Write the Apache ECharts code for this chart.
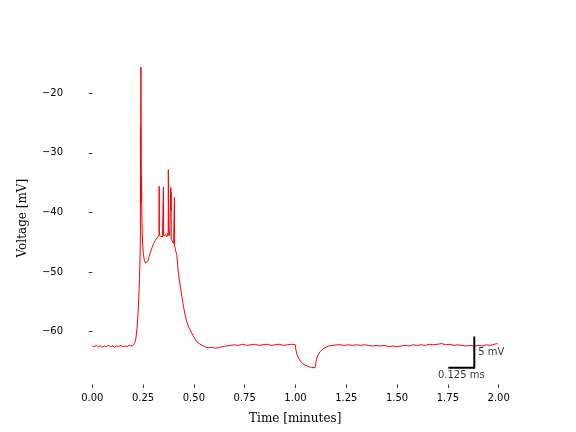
<!DOCTYPE html>
<html>
<head>
<meta charset="utf-8">
<script src="https://cdn.jsdelivr.net/npm/echarts@6/dist/echarts.min.js"></script>
<style>
html,body{margin:0;padding:0;background:#fff;}
#chart{width:576px;height:432px;}
</style>
</head>
<body>
<div id="chart"></div>
<script>
// ---- data ----
const timeMin = [
  0.00,0.01,0.02,0.03,0.04,0.05,0.06,0.07,0.08,0.09,0.10,0.11,0.12,0.13,0.14,0.15,0.16,0.17,0.18,0.19,0.20,
  0.205,0.21,0.215,0.22,0.224,0.228,0.232,0.235,0.2368,0.2375,0.2382,0.2395,0.2405,0.2412,0.2422,0.2432,0.2445,
  0.247,0.251,0.256,0.262,0.268,0.274,0.28,0.287,0.294,0.302,0.31,0.318,0.325,
  0.3285,0.3292,0.3300,0.334,0.339,0.345,0.3495,0.3502,0.3510,0.356,0.361,0.366,0.3715,
  0.3735,0.3742,0.3750,0.3760,0.381,0.3855,0.3862,0.3870,0.3878,0.3888,0.394,0.400,0.4035,0.4042,0.4050,
  0.409,0.413,0.416,0.42,0.424,0.43,0.436,0.442,0.449,0.457,0.465,0.475,0.49,0.50,0.514,0.53,0.547,0.56,
  0.575,0.59,0.605,0.62,0.64,0.66,0.68,0.70,0.72,0.74,0.76,0.78,0.80,0.82,0.84,0.86,0.88,0.90,0.92,0.94,0.96,0.98,0.999,
  1.0,1.002,1.008,1.018,1.03,1.046,1.068,1.08,1.088,1.096,1.099,1.101,1.109,1.122,1.139,1.163,1.205,
  1.22,1.24,1.26,1.28,1.30,1.32,1.34,1.36,1.38,1.40,1.42,1.44,1.46,1.48,1.50,1.52,1.54,1.56,1.58,1.60,
  1.62,1.64,1.66,1.68,1.70,1.72,1.74,1.76,1.78,1.80,1.82,1.84,1.86,1.88,1.90,1.92,1.94,1.96,1.98,1.995
];
const voltage = [
  -62.4,-62.5,-62.3,-62.5,-62.4,-62.6,-62.4,-62.5,-62.3,-62.5,-62.4,-62.6,-62.4,-62.5,-62.3,-62.5,-62.4,-62.5,-62.3,-62.4,-62.3,
  -62.2,-61.8,-61.0,-59.5,-57.5,-55.0,-51.3,-47.5,-44.0,-25.6,-38.4,-15.6,-31.0,-38.4,-34.0,-38.4,-41.8,
  -44.8,-46.9,-48.0,-48.5,-48.6,-48.1,-47.4,-46.6,-45.9,-45.2,-44.7,-44.3,-44.0,
  -43.8,-35.6,-43.9,-44.2,-43.6,-44.1,-43.8,-35.7,-43.9,-44.2,-43.7,-44.1,-43.5,
  -43.9,-32.8,-39.0,-43.2,-43.9,-43.6,-35.8,-39.6,-36.6,-44.5,-44.6,-45.2,-45.4,-37.5,-45.6,
  -45.6,-45.9,-47.2,-48.8,-50.2,-51.7,-53.0,-54.4,-55.8,-57.2,-58.3,-59.3,-60.25,-60.9,-61.66,-62.1,-62.4,-62.6,
  -62.7,-62.6,-62.8,-62.7,-62.5,-62.4,-62.3,-62.2,-62.3,-62.1,-62.3,-62.2,-62.1,-62.3,-62.2,-62.1,-62.3,-62.2,-62.1,-62.3,-62.2,-62.1,-62.2,
  -62.6,-63.05,-63.9,-64.6,-65.2,-65.6,-65.9,-66.0,-66.05,-66.05,-65.6,-65.0,-64.05,-63.3,-62.8,-62.4,-62.2,
  -62.2,-62.3,-62.2,-62.3,-62.2,-62.3,-62.2,-62.3,-62.4,-62.3,-62.4,-62.3,-62.5,-62.4,-62.5,-62.4,-62.3,-62.4,-62.2,-62.3,
  -62.2,-62.3,-62.1,-62.2,-62.1,-62.0,-62.2,-62.1,-62.3,-62.2,-62.3,-62.4,-62.3,-62.4,-62.3,-62.4,-62.2,-62.3,-62.1,-62.0
];
const xTicks = [0, 0.25, 0.5, 0.75, 1.0, 1.25, 1.5, 1.75, 2.0];
const yTicks = [-60, -50, -40, -30, -20];
const scaleBarX = [1.752, 1.88, 1.88];
const scaleBarY = [-66.05, -66.05, -60.8];
const scaleBarLabels = ['0.125 ms', '5 mV'];

// ---- chart ----
const chart = echarts.init(document.getElementById('chart'), null, {renderer: 'canvas'});
const trace = timeMin.map((t, i) => [t, voltage[i]]);
const bar = scaleBarX.map((x, i) => [x, scaleBarY[i]]);
const barLabelPts = [
  {value: [(scaleBarX[0] + scaleBarX[1]) / 2, scaleBarY[0]], label: {position: 'bottom', distance: 3}, name: scaleBarLabels[0]},
  {value: [scaleBarX[2], (scaleBarY[1] + scaleBarY[2]) / 2], label: {position: 'right', distance: 4}, name: scaleBarLabels[1]}
];
const fmtMinus = v => (v < 0 ? '\u2212' + Math.abs(v) : String(v));
const tickFont = {fontFamily: 'DejaVu Sans', fontSize: 10, color: '#000'};

chart.setOption({
  animation: false,
  backgroundColor: '#fff',
  grid: {left: 72, right: 57.6, top: 51.8, bottom: 47.5, containLabel: false, outerBoundsMode: 'none'},
  xAxis: {
    type: 'value', min: -0.0999, max: 2.0971,
    name: 'Time [minutes]', nameLocation: 'middle', nameGap: 28,
    nameTextStyle: {fontFamily: 'DejaVu Serif', fontSize: 12, color: '#000'},
    axisLine: {show: false},
    axisTick: {show: true, length: 3.5, lineStyle: {color: '#000', width: 0.8}, customValues: xTicks},
    axisLabel: Object.assign({show: true, margin: 8.5, customValues: xTicks, formatter: v => v.toFixed(2)}, tickFont),
    splitLine: {show: false}
  },
  yAxis: {
    type: 'value', min: -68.86, max: -13.04,
    name: 'Voltage [mV]', nameLocation: 'middle', nameGap: 43,
    nameTextStyle: {fontFamily: 'DejaVu Serif', fontSize: 12, color: '#000'},
    axisLine: {show: false},
    axisTick: {show: true, length: 3.5, lineStyle: {color: '#000', width: 0.8}, customValues: yTicks},
    axisLabel: Object.assign({show: true, margin: 9, customValues: yTicks, formatter: fmtMinus}, tickFont),
    splitLine: {show: false}
  },
  series: [
    {
      type: 'line', data: trace, showSymbol: false, symbol: 'none', sampling: null,
      lineStyle: {color: '#ff0000', width: 1}, silent: true, z: 2
    },
    {
      type: 'line', data: bar, showSymbol: false, symbol: 'none',
      lineStyle: {color: '#000', width: 2, cap: 'butt', join: 'miter'}, silent: true, z: 3
    },
    {
      type: 'scatter', data: barLabelPts, symbolSize: 0, silent: true, z: 4,
      label: {show: true, formatter: p => p.name, fontFamily: 'DejaVu Sans', fontSize: 10, color: '#000'}
    }
  ]
});
</script>
</body>
</html>
